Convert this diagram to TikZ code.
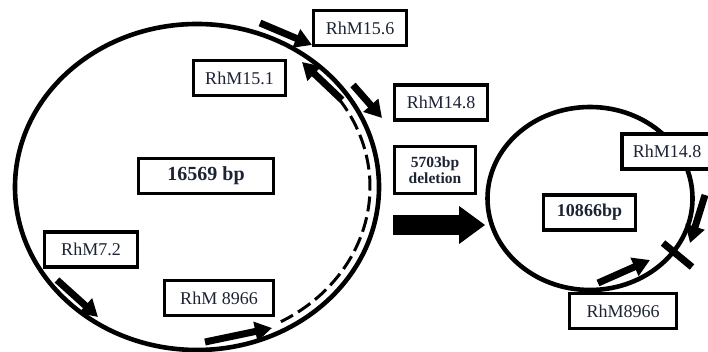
\documentclass[tikz,border=0pt]{standalone}
\usepackage{fontspec}
\setmainfont{Liberation Serif}
\usepackage{tikz}
\usetikzlibrary{arrows.meta,calc,positioning,shapes.geometric}
\definecolor{InkNavy}{HTML}{1C2333}

\begin{document}
\begin{tikzpicture}[x=1pt,y=1pt,
    ring/.style={draw,ellipse,line width=4.6pt,inner sep=0pt},
    label/.style={draw,line width=3.6pt,inner sep=0pt,text=InkNavy,
    minimum height=35pt,align=center,font=\fontsize{18}{19}\selectfont},
    sizebox/.style={label,font=\fontsize{20}{21}\selectfont\bfseries},
    primer/.style={-{Triangle[length=17pt,width=19pt]},line width=7pt},
    bigarr/.style={-{Triangle[length=26pt,width=36pt]},line width=20pt}]
    \useasboundingbox (0,0) rectangle (708,352);
    % full and deleted genomes
    \node[ring,minimum width=364pt,minimum height=326pt] (mtfull) at (197,165) {};
    \node[ring,minimum width=205pt,minimum height=183pt] (mtdel) at (590,153.5) {};
    % deleted region
    \draw[line width=3pt,dash pattern=on 15pt off 6pt]
      ($(mtfull.center)+(35:173 and 154)$) arc[start angle=35,end angle=-61,x radius=173,y radius=154];
    % primers on the full genome
    \draw[primer] (260,329) -- (312,307);
    \draw[primer] (342,252) -- (302,290);
    \draw[primer] (353,267) -- (382,234);
    \draw[primer] (57,72) -- (98,35);
    \draw[primer] (205,10) -- (272,24);
    % primers on the deleted genome
    \draw[primer] (705,157) -- (690,109);
    \draw[primer] (598,69) -- (650,92);
    \draw[line width=7pt] (663,109) -- (692,85);
    % labels
    \node[label,fill=white,minimum width=93pt] (p156) at (360,324) {RhM15.6};
    \node[label,fill=white,minimum width=92pt] (p151) at (239.5,274) {RhM15.1};
    \node[label,fill=white,minimum width=93pt] (p148) at (441,249.5) {RhM14.8};
    \node[label,fill=white,minimum width=93pt] (p72) at (91,102.5) {RhM7.2};
    \node[label,fill=white,minimum width=109pt] (p8966) at (219,54) {RhM 8966};
    \node[label,fill=white,minimum width=90pt] (q148) at (667,200.5) {RhM14.8};
    \node[label,fill=white,minimum width=107pt] (q8966) at (623,41) {RhM8966};
    \node[sizebox,minimum width=135pt] (fullsize) at (206,176) {16569 bp};
    \node[sizebox,minimum width=92pt,font=\fontsize{18}{19}\selectfont\bfseries] (delsize) at (589.5,139.5) {10866bp};
    \node[label,minimum width=81pt,minimum height=47pt,font=\fontsize{15.5}{16}\selectfont\bfseries] (deletion) at (435,182) {5703bp\\deletion};
    % from full to deleted
    \coordinate (gap) at (393,127);
    \draw[bigarr] (gap) -- (gap -| mtdel.west);
\end{tikzpicture}
\end{document}
